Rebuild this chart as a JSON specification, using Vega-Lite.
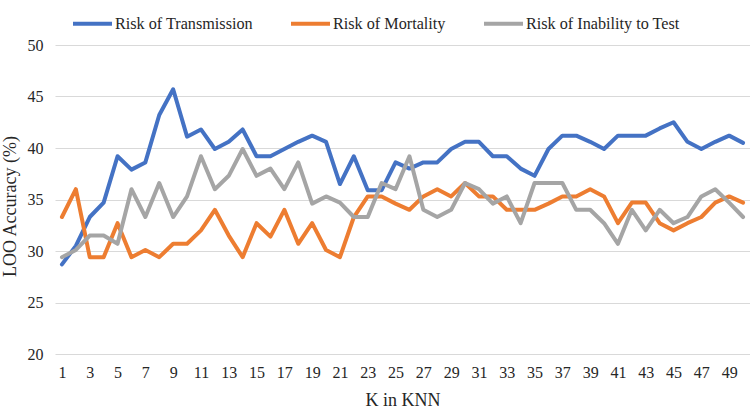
{
  "$schema": "https://vega.github.io/schema/vega-lite/v6.json",
  "width": 695,
  "height": 309,
  "autosize": {"type": "none"},
  "padding": {"left": 55, "top": 45, "right": 0, "bottom": 55},
  "background": "white",
  "config": {
    "view": {"stroke": null},
    "font": "Liberation Serif",
    "style": {
      "guide-label": {"font": "Liberation Serif"},
      "guide-title": {"font": "Liberation Serif"}
    }
  },
  "data": {"values": [
    {"k":1,"Risk of Transmission":28.7,"Risk of Mortality":33.3,"Risk of Inability to Test":29.4},
    {"k":2,"Risk of Transmission":30.5,"Risk of Mortality":36.0,"Risk of Inability to Test":30.1},
    {"k":3,"Risk of Transmission":33.3,"Risk of Mortality":29.4,"Risk of Inability to Test":31.5},
    {"k":4,"Risk of Transmission":34.7,"Risk of Mortality":29.4,"Risk of Inability to Test":31.5},
    {"k":5,"Risk of Transmission":39.2,"Risk of Mortality":32.7,"Risk of Inability to Test":30.7},
    {"k":6,"Risk of Transmission":37.9,"Risk of Mortality":29.4,"Risk of Inability to Test":36.0},
    {"k":7,"Risk of Transmission":38.6,"Risk of Mortality":30.1,"Risk of Inability to Test":33.3},
    {"k":8,"Risk of Transmission":43.2,"Risk of Mortality":29.4,"Risk of Inability to Test":36.6},
    {"k":9,"Risk of Transmission":45.7,"Risk of Mortality":30.7,"Risk of Inability to Test":33.3},
    {"k":10,"Risk of Transmission":41.1,"Risk of Mortality":30.7,"Risk of Inability to Test":35.3},
    {"k":11,"Risk of Transmission":41.8,"Risk of Mortality":32.0,"Risk of Inability to Test":39.2},
    {"k":12,"Risk of Transmission":39.9,"Risk of Mortality":34.0,"Risk of Inability to Test":36.0},
    {"k":13,"Risk of Transmission":40.6,"Risk of Mortality":31.5,"Risk of Inability to Test":37.3},
    {"k":14,"Risk of Transmission":41.8,"Risk of Mortality":29.4,"Risk of Inability to Test":39.9},
    {"k":15,"Risk of Transmission":39.2,"Risk of Mortality":32.7,"Risk of Inability to Test":37.3},
    {"k":16,"Risk of Transmission":39.2,"Risk of Mortality":31.4,"Risk of Inability to Test":38.0},
    {"k":17,"Risk of Transmission":39.9,"Risk of Mortality":34.0,"Risk of Inability to Test":36.0},
    {"k":18,"Risk of Transmission":40.6,"Risk of Mortality":30.7,"Risk of Inability to Test":38.6},
    {"k":19,"Risk of Transmission":41.2,"Risk of Mortality":32.7,"Risk of Inability to Test":34.6},
    {"k":20,"Risk of Transmission":40.6,"Risk of Mortality":30.1,"Risk of Inability to Test":35.3},
    {"k":21,"Risk of Transmission":36.5,"Risk of Mortality":29.4,"Risk of Inability to Test":34.7},
    {"k":22,"Risk of Transmission":39.2,"Risk of Mortality":33.3,"Risk of Inability to Test":33.3},
    {"k":23,"Risk of Transmission":35.9,"Risk of Mortality":35.3,"Risk of Inability to Test":33.3},
    {"k":24,"Risk of Transmission":35.9,"Risk of Mortality":35.3,"Risk of Inability to Test":36.6},
    {"k":25,"Risk of Transmission":38.6,"Risk of Mortality":34.6,"Risk of Inability to Test":36.0},
    {"k":26,"Risk of Transmission":38.0,"Risk of Mortality":34.0,"Risk of Inability to Test":39.2},
    {"k":27,"Risk of Transmission":38.6,"Risk of Mortality":35.3,"Risk of Inability to Test":34.0},
    {"k":28,"Risk of Transmission":38.6,"Risk of Mortality":36.0,"Risk of Inability to Test":33.3},
    {"k":29,"Risk of Transmission":39.9,"Risk of Mortality":35.3,"Risk of Inability to Test":34.0},
    {"k":30,"Risk of Transmission":40.6,"Risk of Mortality":36.6,"Risk of Inability to Test":36.6},
    {"k":31,"Risk of Transmission":40.6,"Risk of Mortality":35.3,"Risk of Inability to Test":36.0},
    {"k":32,"Risk of Transmission":39.2,"Risk of Mortality":35.3,"Risk of Inability to Test":34.6},
    {"k":33,"Risk of Transmission":39.2,"Risk of Mortality":34.0,"Risk of Inability to Test":35.3},
    {"k":34,"Risk of Transmission":38.0,"Risk of Mortality":34.0,"Risk of Inability to Test":32.7},
    {"k":35,"Risk of Transmission":37.3,"Risk of Mortality":34.0,"Risk of Inability to Test":36.6},
    {"k":36,"Risk of Transmission":39.9,"Risk of Mortality":34.6,"Risk of Inability to Test":36.6},
    {"k":37,"Risk of Transmission":41.2,"Risk of Mortality":35.3,"Risk of Inability to Test":36.6},
    {"k":38,"Risk of Transmission":41.2,"Risk of Mortality":35.3,"Risk of Inability to Test":34.0},
    {"k":39,"Risk of Transmission":40.6,"Risk of Mortality":36.0,"Risk of Inability to Test":34.0},
    {"k":40,"Risk of Transmission":39.9,"Risk of Mortality":35.3,"Risk of Inability to Test":32.7},
    {"k":41,"Risk of Transmission":41.2,"Risk of Mortality":32.7,"Risk of Inability to Test":30.7},
    {"k":42,"Risk of Transmission":41.2,"Risk of Mortality":34.7,"Risk of Inability to Test":34.0},
    {"k":43,"Risk of Transmission":41.2,"Risk of Mortality":34.7,"Risk of Inability to Test":32.0},
    {"k":44,"Risk of Transmission":41.9,"Risk of Mortality":32.7,"Risk of Inability to Test":34.0},
    {"k":45,"Risk of Transmission":42.5,"Risk of Mortality":32.0,"Risk of Inability to Test":32.7},
    {"k":46,"Risk of Transmission":40.6,"Risk of Mortality":32.7,"Risk of Inability to Test":33.3},
    {"k":47,"Risk of Transmission":39.9,"Risk of Mortality":33.3,"Risk of Inability to Test":35.3},
    {"k":48,"Risk of Transmission":40.6,"Risk of Mortality":34.7,"Risk of Inability to Test":36.0},
    {"k":49,"Risk of Transmission":41.2,"Risk of Mortality":35.3,"Risk of Inability to Test":34.7},
    {"k":50,"Risk of Transmission":40.5,"Risk of Mortality":34.7,"Risk of Inability to Test":33.3}
  ]},
  "transform": [
    {"fold": ["Risk of Transmission", "Risk of Mortality", "Risk of Inability to Test"], "as": ["series", "value"]}
  ],
  "mark": {"type": "line", "strokeWidth": 4, "strokeJoin": "round", "strokeCap": "round"},
  "encoding": {
    "x": {
      "field": "k", "type": "quantitative",
      "scale": {"domain": [0.5, 50.5], "nice": false, "zero": false},
      "axis": {
        "values": [1,3,5,7,9,11,13,15,17,19,21,23,25,27,29,31,33,35,37,39,41,43,45,47,49],
        "grid": false, "domain": false, "ticks": false,
        "labelFont": "Liberation Serif", "labelFontSize": 16, "labelColor": "#262626",
        "labelPadding": 10, "labelFlush": false,
        "title": "K in KNN", "titleFont": "Liberation Serif", "titleFontSize": 18,
        "titleFontWeight": "normal", "titleColor": "#262626", "titlePadding": 11
      }
    },
    "y": {
      "field": "value", "type": "quantitative",
      "scale": {"domain": [20, 50], "nice": false, "zero": false},
      "axis": {
        "values": [20,25,30,35,40,45,50],
        "grid": true, "gridColor": "#D9D9D9", "gridWidth": 1,
        "domain": false, "ticks": false,
        "labelFont": "Liberation Serif", "labelFontSize": 16, "labelColor": "#262626",
        "labelPadding": 12,
        "title": "LOO Accuracy (%)", "titleFont": "Liberation Serif", "titleFontSize": 18,
        "titleFontWeight": "normal", "titleColor": "#262626", "titlePadding": 8,
        "titleY": 161
      }
    },
    "color": {
      "field": "series", "type": "nominal",
      "scale": {
        "domain": ["Risk of Transmission", "Risk of Mortality", "Risk of Inability to Test"],
        "range": ["#4472C4", "#ED7D31", "#A5A5A5"]
      },
      "legend": {
        "title": null, "orient": "none", "direction": "horizontal",
        "legendX": 16, "legendY": -43,
        "symbolType": "stroke", "symbolSize": 1521, "symbolStrokeWidth": 4,
        "labelFont": "Liberation Serif", "labelFontSize": 16.2, "labelColor": "#262626",
        "labelOffset": 1, "columnPadding": 30
      }
    }
  }
}
